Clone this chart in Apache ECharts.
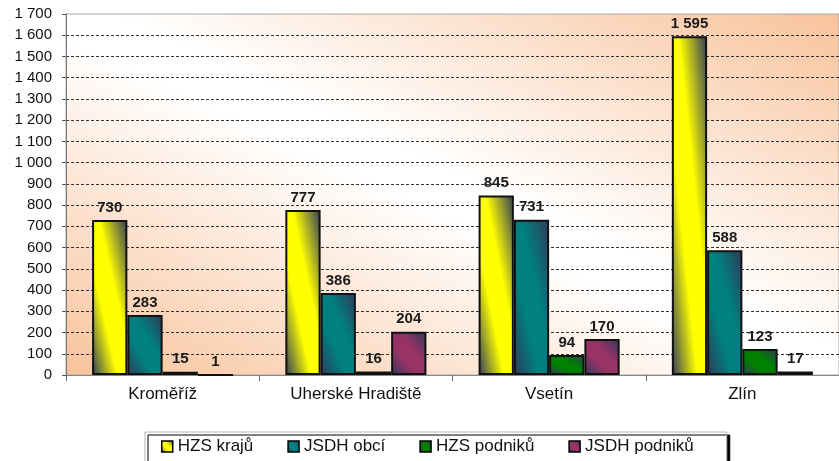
<!DOCTYPE html>
<html>
<head>
<meta charset="utf-8">
<script src="https://cdn.jsdelivr.net/npm/echarts@6/dist/echarts.min.js"></script>
<style>
  html, body { margin: 0; padding: 0; background: #fff; }
  #chart { width: 839px; height: 461px; }
</style>
</head>
<body>
<div id="chart"></div>
<script>
  // data
  var categories = ['Kroměříž', 'Uherské Hradiště', 'Vsetín', 'Zlín'];
  var seriesNames = ['HZS krajů', 'JSDH obcí', 'HZS podniků', 'JSDH podniků'];
  var hzsKraju = [730, 777, 845, 1595];
  var jsdhObci = [283, 386, 731, 588];
  var hzsPodniku = [15, 16, 94, 123];
  var jsdhPodniku = [1, 204, 170, 17];
  var yMax = 1700;
  var yStep = 100;

  var FONT = '"Liberation Sans", Arial, sans-serif';
  var DARK = '#2f3a5a';
  var GRID_W = 776, GRID_H = 361;
  var BAR_W = GRID_W / 4 * 0.73 / 4;

  // "1 595" style numbers
  function fmt(v) {
    return String(v).replace(/\B(?=(\d{3})+(?!\d))/g, ' ');
  }

  // diagonal gradient like the office one: stripes run parallel to the
  // top-left -> bottom-right diagonal of the box, whatever its shape
  function diag(c1, c2, w, h, stops) {
    var l2 = w * w + h * h || 1;
    return {
      type: 'linear',
      x: 0.5 - h * h / l2, y: 0.5 + w * w / l2,
      x2: 0.5 + h * h / l2, y2: 0.5 - w * w / l2,
      colorStops: stops.map(function (s) { return { offset: s[0], color: s[1] ? c2 : c1 }; })
    };
  }
  var barStops = [[0, 0], [0.36, 1], [0.6, 1], [1, 0]];

  function barSeries(name, values, color) {
    return {
      name: name,
      type: 'bar',
      barGap: '0%',
      barCategoryGap: '27%',
      itemStyle: {
        color: diag(DARK, color, 1, 1, barStops),
        borderColor: '#111',
        borderWidth: 2
      },
      label: {
        show: true,
        position: 'top',
        distance: 5,
        formatter: function (p) { return fmt(p.value); },
        fontFamily: FONT,
        fontWeight: 'bold',
        fontSize: 15,
        color: '#1a1a1a'
      },
      data: values.map(function (v) {
        return { value: v, itemStyle: { color: diag(DARK, color, BAR_W, v * GRID_H / yMax, barStops) } };
      })
    };
  }

  var lineColors = [];
  for (var t = 0; t <= yMax; t += yStep) {
    lineColors.push(t === 0 || t === yMax ? 'rgba(0,0,0,0)' : '#333');
  }

  var myChart = echarts.init(document.getElementById('chart'));
  myChart.setOption({
    animation: false,
    backgroundColor: '#fff',
    grid: {
      left: 66,
      top: 14,
      width: GRID_W,
      height: GRID_H,
      show: true,
      borderColor: '#aaa',
      borderWidth: 1,
      backgroundColor: diag('#f8c29a', '#ffffff', GRID_W, GRID_H, [[0, 0], [0.47, 1], [0.53, 1], [1, 0]])
    },
    legend: {
      left: 145,
      top: 432,
      padding: [6, 33, 7, 16],
      itemGap: 34,
      itemWidth: 11,
      itemHeight: 11,
      backgroundColor: '#fff',
      borderColor: '#b5b5b5',
      borderWidth: 1,
      shadowColor: '#000',
      shadowOffsetX: 3,
      shadowOffsetY: 3,
      shadowBlur: 0,
      textStyle: { fontFamily: FONT, fontSize: 17, color: '#111' },
      data: seriesNames.map(function (n) {
        return { name: n, icon: 'rect', itemStyle: { borderColor: '#000', borderWidth: 1.5 } };
      })
    },
    xAxis: {
      type: 'category',
      data: categories,
      axisLine: { lineStyle: { color: '#888', width: 1 } },
      axisTick: { show: true, length: 6, lineStyle: { color: '#666' } },
      axisLabel: { margin: 11, fontFamily: FONT, fontSize: 17, color: '#111' }
    },
    yAxis: {
      type: 'value',
      min: 0,
      max: yMax,
      interval: yStep,
      axisLine: { show: true, lineStyle: { color: '#777', width: 1 } },
      axisTick: { show: true, length: 4, lineStyle: { color: '#555' } },
      axisLabel: {
        margin: 14,
        fontFamily: FONT,
        fontSize: 15,
        color: '#111',
        formatter: fmt
      },
      splitLine: { show: true, lineStyle: { color: lineColors, type: [3, 2], width: 1 } }
    },
    series: [
      barSeries(seriesNames[0], hzsKraju, '#ffff00'),
      barSeries(seriesNames[1], jsdhObci, '#008080'),
      barSeries(seriesNames[2], hzsPodniku, '#008000'),
      barSeries(seriesNames[3], jsdhPodniku, '#993366')
    ]
  });
  window.onresize = () => myChart.resize()
</script>
</body>
</html>
